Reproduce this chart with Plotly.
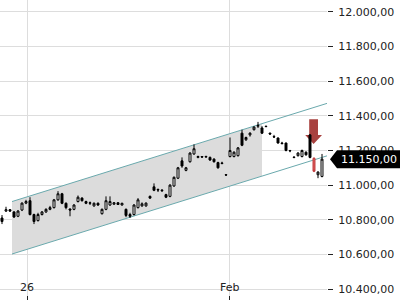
import plotly.graph_objects as go

# ---- data ----
opens = [10810, 10850, 10858, 10845, 10820, 10856, 10896, 10910, 10830, 10795,
         10830, 10845, 10860, 10870, 10915, 10950, 10895, 10862, 10860, 10905,
         10925, 10905, 10895, 10880, 10895, 10835, 10860, 10885, 10890, 10898,
         10885, 10860, 10830, 10830, 10870, 10880, 10880, 10935, 10990, 10975,
         10972, 10945, 10935, 10995, 11040, 11140, 11085, 11135, 11180, 11160,
         11165, 11162, 11160, 11150, 11130, 11128, 11060, 11165, 11165, 11170,
         11300, 11262, 11290, 11320, 11340, 11330, 11340, 11300, 11280, 11272,
         11243, 11243, 11200, 11162, 11170, 11165, 11190, 11290, 11155, 11060,
         11050]
highs = [10827, 10875, 10862, 10850, 10856, 10900, 10915, 10930, 10835, 10840,
         10850, 10866, 10880, 10920, 10965, 10955, 10900, 10865, 10890, 10940,
         10930, 10910, 10905, 10900, 10900, 10865, 10935, 10935, 10902, 10902,
         10898, 10865, 10840, 10890, 10925, 10900, 10900, 10940, 11010, 10980,
         10975, 10950, 11005, 11050, 11105, 11160, 11105, 11190, 11235, 11170,
         11168, 11170, 11165, 11155, 11135, 11135, 11062, 11275, 11195, 11220,
         11320, 11280, 11305, 11340, 11365, 11340, 11343, 11303, 11290, 11275,
         11250, 11245, 11203, 11165, 11190, 11205, 11195, 11295, 11160, 11080,
         11180]
lows = [10775, 10845, 10845, 10810, 10815, 10850, 10890, 10825, 10775, 10790,
        10825, 10840, 10855, 10865, 10910, 10890, 10860, 10820, 10855, 10900,
        10905, 10890, 10885, 10875, 10880, 10830, 10855, 10880, 10885, 10885,
        10882, 10815, 10810, 10825, 10865, 10875, 10875, 10920, 10965, 10960,
        10960, 10925, 10930, 10990, 11035, 11100, 11080, 11130, 11175, 11155,
        11158, 11158, 11140, 11130, 11095, 11120, 11055, 11160, 11160, 11165,
        11225, 11255, 11280, 11315, 11330, 11295, 11335, 11292, 11272, 11240,
        11235, 11195, 11190, 11155, 11165, 11160, 11170, 11155, 11075, 11040,
        11045]
closes = [10790, 10858, 10850, 10816, 10850, 10896, 10905, 10830, 10790, 10830,
          10845, 10860, 10870, 10915, 10950, 10895, 10870, 10856, 10885, 10930,
          10910, 10895, 10898, 10895, 10885, 10860, 10910, 10905, 10898, 10888,
          10895, 10825, 10820, 10885, 10915, 10892, 10896, 10925, 10970, 10972,
          10968, 10930, 11000, 11045, 11100, 11110, 11100, 11185, 11210, 11165,
          11162, 11165, 11145, 11135, 11100, 11125, 11058, 11200, 11190, 11215,
          11230, 11275, 11300, 11335, 11345, 11300, 11338, 11295, 11278, 11243,
          11240, 11200, 11198, 11160, 11185, 11200, 11175, 11160, 11080, 11075,
          11150]
highlight_idx = [78]          # candle drawn in red

x_ticks = [6.25, 56.75]
x_tick_labels = ["26", "Feb"]
y_ticks = [10400, 10600, 10800, 11000, 11200, 11400, 11600, 11800, 12000]

channel_x = [2.5, 81.25]
channel_upper = [10905, 11472]
channel_lower = [10602, 11169]
shade_end_x = 65

arrow_x = [75.8, 76.8, 79.0, 80.0]   # head-left, shaft-left, shaft-right, head-right
arrow_y = [11380, 11289, 11237]       # shaft top, head base, tip

y_range = [10336.5, 12069]
x_range = [-0.5, 81.25]

# ---- figure ----
idx = list(range(len(closes)))
normal = [i for i in idx if i not in highlight_idx]

fig = go.Figure()


def interp(xv, xs, ys):
    return ys[0] + (ys[1] - ys[0]) * (xv - xs[0]) / (xs[1] - xs[0])


up_end = interp(shade_end_x, channel_x, channel_upper)
lo_end = interp(shade_end_x, channel_x, channel_lower)
shade_path = (f"M {channel_x[0]},{channel_upper[0]} L {shade_end_x},{up_end} "
              f"L {shade_end_x},{lo_end} L {channel_x[0]},{channel_lower[0]} Z")
fig.add_shape(type="path", path=shade_path, xref="x", yref="y",
              fillcolor="#dcdcdc", line=dict(width=0), layer="between")

for ys in (channel_upper, channel_lower):
    fig.add_shape(type="line", xref="x", yref="y",
                  x0=channel_x[0], y0=ys[0], x1=channel_x[1], y1=ys[1],
                  line=dict(color="#6aa9ad", width=1), layer="between")

fig.add_trace(go.Candlestick(
    x=normal,
    open=[opens[i] for i in normal], high=[highs[i] for i in normal],
    low=[lows[i] for i in normal], close=[closes[i] for i in normal],
    increasing=dict(line=dict(color="#000000", width=1), fillcolor="#ffffff"),
    decreasing=dict(line=dict(color="#000000", width=1), fillcolor="#000000"),
    whiskerwidth=0, showlegend=False))

fig.add_trace(go.Candlestick(
    x=highlight_idx,
    open=[opens[i] for i in highlight_idx], high=[highs[i] for i in highlight_idx],
    low=[lows[i] for i in highlight_idx], close=[closes[i] for i in highlight_idx],
    increasing=dict(line=dict(color="#c0393b", width=1), fillcolor="#c0393b"),
    decreasing=dict(line=dict(color="#c0393b", width=1), fillcolor="#e06060"),
    whiskerwidth=0, showlegend=False))

# red arrow
ax = arrow_x
ay = arrow_y
arrow_path = (f"M {ax[1]},{ay[0]} L {ax[2]},{ay[0]} L {ax[2]},{ay[1]} L {ax[3]},{ay[1]} "
              f"L {(ax[0]+ax[3])/2},{ay[2]} L {ax[0]},{ay[1]} L {ax[1]},{ay[1]} Z")
fig.add_shape(type="path", path=arrow_path, xref="x", yref="y",
              fillcolor="#a8413f", line=dict(width=0), layer="between")

# x-axis labels (drawn inside the plot, above the bottom ticks)
for xv, txt in zip(x_ticks, x_tick_labels):
    fig.add_annotation(xref="x", yref="paper", x=xv, y=13 / 300.0,
                       xanchor="center", yanchor="middle", text=txt,
                       showarrow=False, bgcolor="rgba(255,255,255,0)",
                       font=dict(family="DejaVu Sans", size=11, color="#222222"))

# last price label
last = closes[-1]
label = f"{last:,.2f}".replace(",", "X").replace(".", ",").replace("X", ".")
plot_w = 327.0
plot_h = 300.0
py = (last - y_range[0]) / (y_range[1] - y_range[0])
hh = 9.0 / plot_h
x0 = 330 / plot_w
x1 = 337 / plot_w
x2 = 400 / plot_w
fig.add_shape(type="path", xref="paper", yref="paper",
              path=f"M {x0},{py} L {x1},{py+hh} L {x2},{py+hh} L {x2},{py-hh} L {x1},{py-hh} Z",
              fillcolor="#000000", line=dict(width=0), layer="above")
fig.add_annotation(xref="paper", yref="paper", x=339 / plot_w, y=py, xanchor="left",
                   yanchor="middle", text=label, showarrow=False,
                   font=dict(family="DejaVu Sans", size=11, color="#ffffff"))

fig.update_layout(
    width=400, height=300,
    margin=dict(l=0, r=73, t=0, b=0),
    paper_bgcolor="#ffffff", plot_bgcolor="#ffffff",
    separators=",.",
    font=dict(family="DejaVu Sans", size=11, color="#222222"),
    showlegend=False,
    hovermode=False,
)
fig.update_xaxes(range=x_range, rangeslider=dict(visible=False),
                 tickvals=x_ticks, ticktext=x_tick_labels, showticklabels=False,
                 showgrid=True, gridcolor="#dddddd", gridwidth=1,
                 ticks="inside", ticklen=4, tickcolor="#222222",
                 zeroline=False, showline=False)
fig.update_yaxes(range=y_range, side="right", tickvals=y_ticks,
                 tickformat=",.2f", showgrid=True, gridcolor="#dddddd",
                 gridwidth=1, ticks="outside", ticklen=5, tickcolor="#222222",
                 zeroline=False, showline=False, ticklabelstandoff=3,
                 tickfont=dict(size=11, color="#222222"))

fig.write_html("out.html")
